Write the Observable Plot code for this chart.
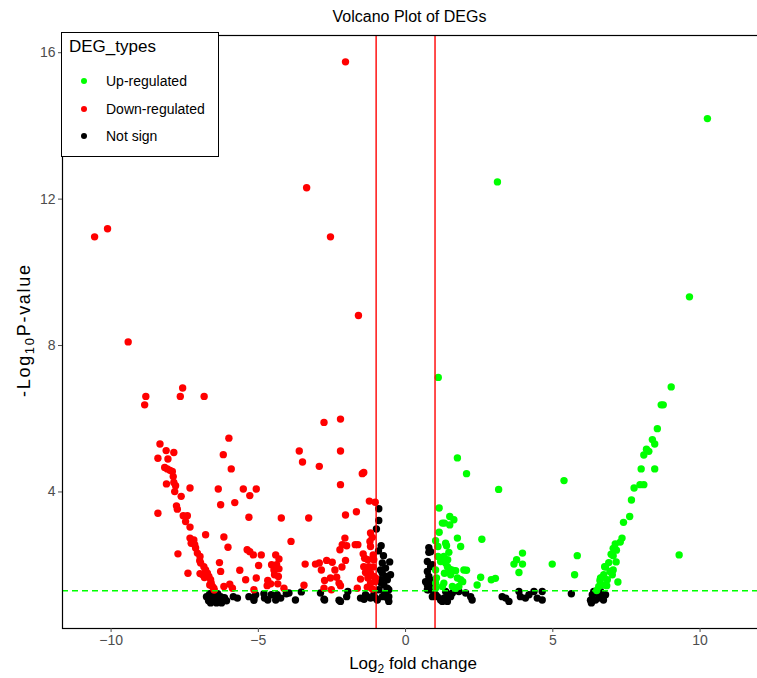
<!DOCTYPE html>
<html>
<head>
<meta charset="utf-8">
<script src="https://cdn.jsdelivr.net/npm/d3@7"></script>
<script src="https://cdn.jsdelivr.net/npm/@observablehq/plot@0.6"></script>
<style>
  html, body { margin: 0; padding: 0; background: #fff; }
  #wrap { position: relative; width: 757px; height: 678px; overflow: hidden; background: #fff;
          font-family: 'Liberation Sans', Arial, sans-serif; }
  #title { height: 28px; box-sizing: border-box; padding-top: 7px; padding-left: 62px; width: 757px; }
  #title span { display: block; width: 695px; text-align: center; font-size: 16px; line-height: 20px; color: #000; }
  #chart { width: 767px; height: 650px; }
  #chart svg { max-width: none !important; }
  #legend { position: absolute; left: 61px; top: 32px; width: 156px; height: 123px; border: 1.3px solid #000; background: #fff; }
  #legend .lt { position: absolute; left: 7px; top: 4px; font-size: 17px; color: #000; }
  #legend .item { position: absolute; left: 44px; font-size: 14px; color: #000; line-height: 16px; }
  #legend .dot { position: absolute; left: 19px; width: 6px; height: 6px; border-radius: 50%; }
</style>
</head>
<body>
<div id="wrap">
  <div id="title"><span>Volcano Plot of DEGs</span></div>
  <div id="chart"></div>
  <div id="legend"></div>
</div>
<script>
// ---- data: [log2 fold change, -log10 P] ----
const downRegulated = [
[-10.56,10.97],[-10.12,11.19],[-9.42,8.10],[-8.82,6.61],[-8.86,6.38],[-7.57,6.84],[-7.65,6.61],[-6.84,6.61],[-3.36,12.31],[-2.04,15.75],[-2.55,10.97],[-1.60,8.82],[-2.77,5.90],[-2.21,5.99],
[-6.00,5.47],[-8.34,5.31],[-8.13,5.13],[-7.87,5.08],[-8.41,4.92],[-8.07,4.90],[-6.19,5.02],[-5.92,4.63],[-8.18,4.67],[-8.09,4.63],[-8.00,4.59],[-7.92,4.56],[-7.89,4.42],[-8.12,4.22],[-7.87,4.26],[-7.81,4.17],[-7.84,4.01],[-7.32,4.11],[-6.36,4.08],[-5.51,4.08],[-7.62,3.88],[-6.28,3.65],[-5.80,3.71],[-7.78,3.62],[-7.75,3.53],[-8.41,3.42],[-7.55,3.35],[-7.41,3.35],[-7.47,3.19],[-7.32,3.04],[-5.32,3.31],[-6.79,2.83],[-6.17,2.77],[-7.32,2.74],[-7.19,2.69],[-7.28,2.60],[-7.16,2.56],[-7.13,2.47],[-7.07,2.33],[-6.98,2.24],[-6.03,2.49],[-7.73,2.31],[-5.38,2.42],
[-6.96,2.06],[-6.85,1.96],[-6.79,1.87],[-6.73,1.78],[-6.68,1.69],[-6.62,1.60],[-6.60,1.51],[-6.56,1.42],[-6.51,1.37],[-6.65,1.46],[-6.83,1.66],[-6.89,1.74],[-6.99,2.12],[-6.32,2.07],[-6.28,1.83],[-5.63,1.86],[-7.39,1.78],[-6.98,1.77],[-5.43,1.60],[-6.17,1.42],[-5.97,1.48],[-5.88,1.37],[-6.50,1.32],
[-5.07,4.08],[-5.29,3.90],[-4.22,3.29],[-3.29,3.29],[-3.61,5.12],[-2.21,5.12],[-3.50,4.82],[-2.93,4.70],[-2.21,4.20],[-1.47,4.50],[-1.42,4.53],[-1.23,3.75],[-1.03,3.72],[-2.04,3.37],[-1.67,3.46],[-3.89,2.65],[-2.06,2.74],[-5.29,2.37],[-5.17,2.28],[-4.90,2.28],[-4.41,2.28],[-4.30,2.17],[-4.99,1.99],[-4.55,2.01],[-4.47,1.87],[-4.38,2.01],[-4.32,1.69],[-5.07,1.65],[-4.68,1.58],[-4.58,1.49],[-4.13,1.37],[-5.15,1.33],[-3.41,2.03],[-3.06,2.03],[-2.93,2.06],[-2.68,2.13],[-2.49,2.08],[-2.86,1.87],[-2.40,1.87],[-2.16,1.95],[-2.04,2.13],[-2.75,1.58],[-2.55,1.65],[-2.34,1.67],[-2.26,1.51],[-3.45,1.45],[-2.77,1.37],[-2.15,2.56],[-1.71,2.56],[-1.62,2.56],[-1.19,2.88],[-1.13,2.76],[-1.21,2.65],[-1.19,2.51],[-1.44,2.31],[-1.39,2.19],[-1.28,2.15],[-1.42,1.96],[-1.25,1.96],[-1.10,1.95],[-1.36,1.80],[-1.19,1.78],[-1.08,1.69],[-1.53,1.62],[-1.28,1.65],[-1.19,1.51],[-1.64,1.37],[-1.30,1.40],[-1.13,1.35],[-1.10,2.28],[-1.08,2.15],[-1.04,1.55],[-1.02,1.65],[-2.23,2.42],[-2.00,2.53],[-2.21,1.44],[-2.52,1.33],[-4.70,1.44],[-4.34,1.49],[-4.45,1.74],[-4.30,1.90]
];
const upRegulated = [
[1.11,7.13],[1.76,4.93],[2.07,4.50],[3.16,4.07],[5.38,4.31],[3.12,12.47],[10.25,14.20],[9.64,9.33],[9.02,6.87],[9.29,2.28],
[1.14,3.56],[1.50,3.33],[1.64,3.24],[1.50,3.10],[1.25,3.15],[1.32,3.15],[1.14,2.90],[1.76,2.74],[2.59,2.71],[1.02,2.67],[1.10,2.51],[1.36,2.60],[1.39,2.53],[1.87,2.51],[1.47,2.35],[1.30,2.24],[1.10,2.24],[1.19,2.10],[1.36,2.06],[1.42,1.96],[1.50,1.89],[1.59,1.86],[1.53,1.74],[1.32,1.78],[1.02,1.87],[1.05,1.65],[1.25,1.42],[1.30,1.51],[1.76,1.65],[1.87,1.60],[1.81,1.42],[1.70,1.37],[1.59,1.42],[1.98,1.87],[2.07,1.86],[2.55,1.67],[2.91,1.60],[3.05,1.64],[2.43,1.46],[3.68,2.03],[3.77,2.15],[3.97,2.33],[3.97,2.03],[3.85,1.80],[4.98,2.03],[5.83,2.26],[5.74,1.74],[1.02,1.51],[1.03,1.38],[1.43,2.15],[1.70,1.85],[1.94,1.55],
[8.68,6.38],[8.75,6.38],[8.55,5.73],[8.38,5.43],[8.46,5.31],[8.18,5.17],[8.26,5.11],[8.09,5.01],[8.00,4.63],[8.46,4.63],[7.96,4.20],[8.09,4.20],[7.76,4.11],[7.67,3.78],[7.61,3.33],[7.40,3.17],[7.35,2.74],[7.29,2.63],[7.12,2.58],[7.05,2.46],[7.16,2.41],[6.98,2.30],[7.05,2.26],[6.90,2.07],[7.15,2.09],[6.76,1.96],[7.05,1.87],[6.94,1.83],[6.73,1.74],[6.62,1.65],[6.85,1.60],[7.21,1.54],[6.71,1.46],[6.56,1.42],[6.83,1.44],[6.49,1.31],[6.60,1.58],[6.68,1.67],[7.02,1.74],[6.79,1.95]
];
const notSign = [
[-6.76,1.14],[-6.69,1.03],[-6.59,1.16],[-6.52,1.05],[-6.45,1.11],[-6.35,1.03],[-6.28,1.14],[-6.21,1.05],[-6.15,1.11],[-6.62,0.97],[-6.42,0.97],[-6.25,0.97],[-6.65,1.22],[-6.38,1.22],[-6.08,1.03],
[-5.85,1.14],[-5.71,1.10],[-5.32,1.14],[-5.15,1.10],[-5.09,1.19],[-4.81,1.22],[-4.79,1.10],[-4.68,1.05],[-4.56,1.19],[-4.41,1.05],[-4.24,1.10],[-4.05,1.22],[-3.74,1.05],[-3.54,1.27],[-2.89,1.24],[-2.77,1.07],[-2.21,1.01],[-2.00,1.14],[-1.96,1.28],[-1.53,1.10],[-1.36,1.19],[-1.19,1.10],[-1.08,1.19],[-1.02,1.10],[-5.15,1.04],[-4.36,1.19],[-3.96,1.24],[-2.75,1.05],[-2.26,1.04],[-1.41,1.07],[-1.30,1.14],
[-0.91,3.54],[-0.91,3.22],[-0.99,2.99],[-0.83,2.53],[-0.79,2.06],[-0.68,1.92],[-0.85,1.87],[-0.65,1.69],[-0.85,1.60],[-0.74,1.46],[-0.62,1.37],[-0.91,1.33],[-0.71,1.24],[-0.79,1.14],[-0.62,1.10],[-0.57,1.01],[-0.96,1.05],[-0.79,1.78],[-0.62,1.60],[-0.83,1.51],[-0.57,1.33],[-0.68,1.19],[-0.57,1.14],[-0.92,2.39],[-0.75,2.26],[-0.54,2.09],[-0.51,1.74],
[0.85,2.37],[0.79,2.35],[0.91,2.01],[0.85,1.96],[0.79,1.69],[0.83,1.60],[0.74,1.46],[0.91,1.42],[0.79,1.33],[0.96,1.24],[0.91,1.14],[0.74,1.33],[0.68,1.55],[0.74,2.10],[0.74,1.83],[0.79,2.48],
[1.08,1.14],[1.19,1.05],[1.30,1.10],[1.42,1.19],[1.53,1.14],[1.25,1.01],[1.42,1.01],[1.02,1.19],[1.59,1.24],[1.36,1.28],[1.81,1.28],[2.04,1.24],[2.21,1.14],[2.26,1.05],[3.28,1.14],[3.40,1.10],[3.51,1.01],[3.85,1.28],[3.90,1.14],[4.07,1.10],[4.19,1.19],[4.36,1.28],[4.47,1.10],[4.64,1.28],[4.64,1.05],[5.63,1.22],
[6.39,1.28],[6.34,1.19],[6.51,1.24],[6.62,1.28],[6.79,1.19],[6.56,1.10],[6.28,1.04],[6.45,1.05],[6.68,1.14],[6.31,0.97],[6.72,1.05]
];
const types = ["Up-regulated", "Down-regulated", "Not sign"];
const typeColors = ["#00ff00", "#ff0000", "#000000"];
const xTicks = [-10, -5, 0, 5, 10];
const yTicks = [4, 8, 12, 16];
const foldCutoffs = [-1, 1];
const pCutoff = [1.30];

const table = [
  ...notSign.map(([x, y]) => ({log2FC: x, nlp: y, type: "Not sign"})),
  ...downRegulated.map(([x, y]) => ({log2FC: x, nlp: y, type: "Down-regulated"})),
  ...upRegulated.map(([x, y]) => ({log2FC: x, nlp: y, type: "Up-regulated"}))
];

const chart = Plot.plot({
  width: 767, height: 650,
  marginLeft: 62, marginRight: 0, marginTop: 7, marginBottom: 50,
  style: {fontFamily: "'Liberation Sans', Arial, sans-serif", fontSize: "14px", background: "white", overflow: "visible", maxWidth: "none"},
  x: {domain: [-11.65, 12.29], label: null},
  y: {domain: [0.27, 16.47], label: null},
  color: {domain: types, range: typeColors},
  marks: [
    Plot.dot(table, {x: "log2FC", y: "nlp", fill: "type", r: 3.7}),
    Plot.ruleX(foldCutoffs, {stroke: "#ff0000", strokeWidth: 1.4}),
    Plot.ruleY(pCutoff, {stroke: "#00ff00", strokeWidth: 1.4, strokeDasharray: "6,4"}),
    Plot.frame({stroke: "#000", strokeWidth: 1.2}),
    Plot.axisX(xTicks, {tickSize: 4, tickPadding: 3, color: "#4d4d4d", label: null}),
    Plot.axisY(yTicks, {tickSize: 4, tickPadding: 3, color: "#4d4d4d", label: null})
  ]
});
chart.style.maxWidth = "none";
document.getElementById("chart").appendChild(chart);

// axis titles with subscripts
const svg = d3.select(chart);
const xt = svg.append("text").attr("x", 413).attr("y", 641).attr("text-anchor", "middle")
  .attr("font-size", 17).attr("fill", "#000");
xt.append("tspan").text("Log");
xt.append("tspan").attr("font-size", 12).attr("dy", 4).text("2");
xt.append("tspan").attr("dy", -4).text(" fold change");
const yt = svg.append("text").attr("transform", "translate(30,303) rotate(-90)").attr("text-anchor", "middle")
  .attr("font-size", 18).attr("fill", "#000")
  .attr("textLength", 132).attr("lengthAdjust", "spacing");
yt.append("tspan").text("-Log");
yt.append("tspan").attr("font-size", 13).attr("dy", 4).text("10");
yt.append("tspan").attr("dy", -4).text("P-value");

// legend
const lg = document.getElementById("legend");
const lt = document.createElement("div"); lt.className = "lt"; lt.textContent = "DEG_types"; lg.appendChild(lt);
types.forEach((t, i) => {
  const d = document.createElement("div"); d.className = "dot";
  d.style.top = (45 + i * 27.6) + "px"; d.style.background = typeColors[i]; lg.appendChild(d);
  const s = document.createElement("div"); s.className = "item";
  s.style.top = (40 + i * 27.6) + "px"; s.textContent = t; lg.appendChild(s);
});
</script>
</body>
</html>
